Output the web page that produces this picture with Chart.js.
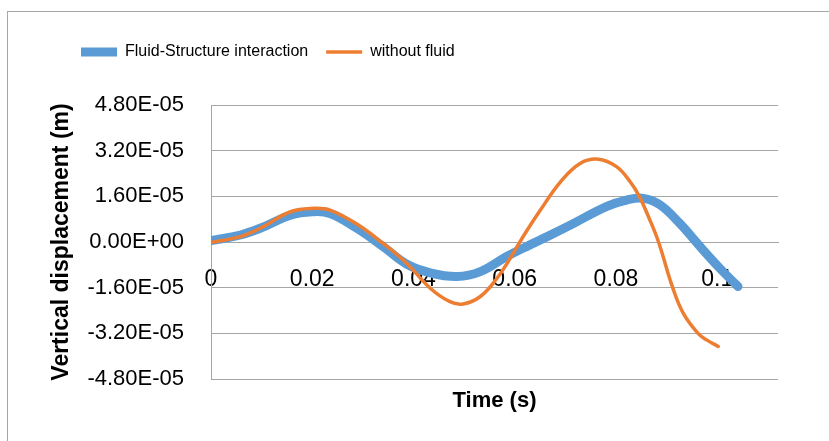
<!DOCTYPE html>
<html>
<head>
<meta charset="utf-8">
<script src="https://cdn.jsdelivr.net/npm/chart.js@4.4.1/dist/chart.umd.min.js"></script>
<style>
	html, body { margin: 0; padding: 0; background: #fff; overflow: hidden; }
	.frame { position: absolute; left: 7px; top: 11px; width: 900px; height: 500px; border: 1px solid #a6a6a6; }
	.wrap { position: absolute; left: 0; top: 0; width: 829px; height: 441px; }
</style>
</head>
<body>
<div class="frame"></div>
<div class="wrap"><canvas id="chart"></canvas></div>
<script>
// Fluid-Structure interaction (s, m)
const fsiTime = [0, 0.0058, 0.0097, 0.0157, 0.020, 0.0235, 0.0288, 0.034, 0.0387, 0.0433, 0.0486, 0.0532, 0.0584, 0.063, 0.0663, 0.0716, 0.0782, 0.0821, 0.0854, 0.0887, 0.0926, 0.0966, 0.1005, 0.1041];
const fsiDisp = [0.05e-5, 0.245e-5, 0.48e-5, 0.94e-5, 1.06e-5, 1.0e-5, 0.48e-5, -0.16e-5, -0.78e-5, -1.08e-5, -1.21e-5, -1.04e-5, -0.51e-5, -0.1e-5, 0.18e-5, 0.65e-5, 1.25e-5, 1.47e-5, 1.53e-5, 1.3e-5, 0.65e-5, -0.16e-5, -0.92e-5, -1.56e-5];

// without fluid (s, m)
const dryTime = [0, 0.0058, 0.0097, 0.0157, 0.0203, 0.0235, 0.0288, 0.034, 0.0387, 0.0433, 0.0472, 0.0498, 0.0532, 0.0565, 0.0591, 0.0617, 0.065, 0.069, 0.0729, 0.0765, 0.0801, 0.0828, 0.0846, 0.0865, 0.0884, 0.0912, 0.0933, 0.0962, 0.0979, 0.1002];
const dryDisp = [-0.02e-5, 0.19e-5, 0.48e-5, 1.06e-5, 1.18e-5, 1.12e-5, 0.63e-5, -0.05e-5, -0.75e-5, -1.62e-5, -2.09e-5, -2.17e-5, -1.91e-5, -1.27e-5, -0.57e-5, 0.2e-5, 1.1e-5, 2.1e-5, 2.75e-5, 2.9e-5, 2.64e-5, 2.11e-5, 1.6e-5, 0.85e-5, 0, -1.6e-5, -2.5e-5, -3.2e-5, -3.43e-5, -3.66e-5];

const timeTicks = [0, 0.02, 0.04, 0.06, 0.08, 0.1];
const dispTicks = [-4.8e-5, -3.2e-5, -1.6e-5, 0, 1.6e-5, 3.2e-5, 4.8e-5];

const gridColor = "#a6a6a6";

Chart.defaults.font.family = "'Liberation Sans', Arial, sans-serif";
Chart.defaults.color = "#000";

const toPoints = (xs, ys) => xs.map((x, i) => ({ x, y: ys[i] }));

// Excel style "4.80E-05"
const sci = v => {
	if (Math.abs(v) < 1e-12) v = 0;
	const [m, e] = v.toExponential(2).split("e");
	const exp = Number(e);
	return `${m}E${exp < 0 ? "-" : "+"}${String(Math.abs(exp)).padStart(2, "0")}`;
};

const legendMargin = {
	id: "legendMargin",
	beforeInit(chart) {
		const fit = chart.legend.fit;
		chart.legend.fit = function () {
			fit.bind(chart.legend)();
			this.height += 35;
		};
	},
};

new Chart(document.getElementById("chart"), {
	type: "line",
	plugins: [legendMargin],
	data: {
		datasets: [
			{
				label: "Fluid-Structure interaction",
				data: toPoints(fsiTime, fsiDisp),
				borderColor: "#5b9bd5",
				backgroundColor: "#5b9bd5",
				borderWidth: 9,
				borderCapStyle: "round",
				borderJoinStyle: "round",
				pointRadius: 0,
				tension: 0.4,
				order: 2,
			},
			{
				label: "without fluid",
				data: toPoints(dryTime, dryDisp),
				borderColor: "#ed7d31",
				backgroundColor: "#ed7d31",
				borderWidth: 3.5,
				borderCapStyle: "round",
				borderJoinStyle: "round",
				pointRadius: 0,
				tension: 0.4,
				order: 1,
			},
		],
	},
	options: {
		responsive: true,
		maintainAspectRatio: false,
		animation: false,
		layout: { padding: { left: 63, right: 51, top: 26, bottom: 0 } },
		plugins: {
			tooltip: { enabled: false },
			legend: {
				position: "top",
				align: "start",
				labels: {
					usePointStyle: true,
					pointStyle: "line",
					pointStyleWidth: 36,
					padding: 18,
					color: "#000",
					font: { size: 16 },
					sort: (a, b) => a.datasetIndex - b.datasetIndex,
				},
			},
		},
		scales: {
			x: {
				type: "linear",
				position: { y: 0 },
				min: 0,
				max: 0.112,
				afterBuildTicks: axis => {
					axis.ticks = timeTicks.map(value => ({ value }));
				},
				afterFit: axis => {
					axis.height = 0;
				},
				grid: { display: false },
				border: { display: true, color: gridColor, width: 1 },
				ticks: {
					padding: 16,
					maxRotation: 0,
					autoSkip: false,
					font: { size: 23 },
					callback: value => String(Number(value.toFixed(2))),
				},
			},
			x2: {
				type: "linear",
				position: "bottom",
				min: 0,
				max: 0.112,
				afterFit: axis => {
					axis.height = 62;
				},
				grid: { display: false },
				border: { display: false },
				ticks: { display: false },
				title: {
					display: true,
					text: "Time (s)",
					font: { size: 22, weight: "bold" },
					padding: { top: 0, bottom: 27 },
				},
			},
			y: {
				type: "linear",
				position: "left",
				min: -4.8e-5,
				max: 4.8e-5,
				afterBuildTicks: axis => {
					axis.ticks = dispTicks.map(value => ({ value }));
				},
				afterFit: axis => {
					axis.width = 148;
				},
				grid: { color: gridColor, lineWidth: 1, drawTicks: false },
				border: { display: true, color: gridColor, width: 1 },
				ticks: {
					padding: 27,
					font: { size: 22 },
					callback: value => sci(value),
				},
				title: {
					display: true,
					text: "Vertical displacement (m)",
					font: { size: 23, weight: "bold" },
					padding: { top: -15, bottom: 0 },
				},
			},
		},
	},
});
</script>
</body>
</html>
